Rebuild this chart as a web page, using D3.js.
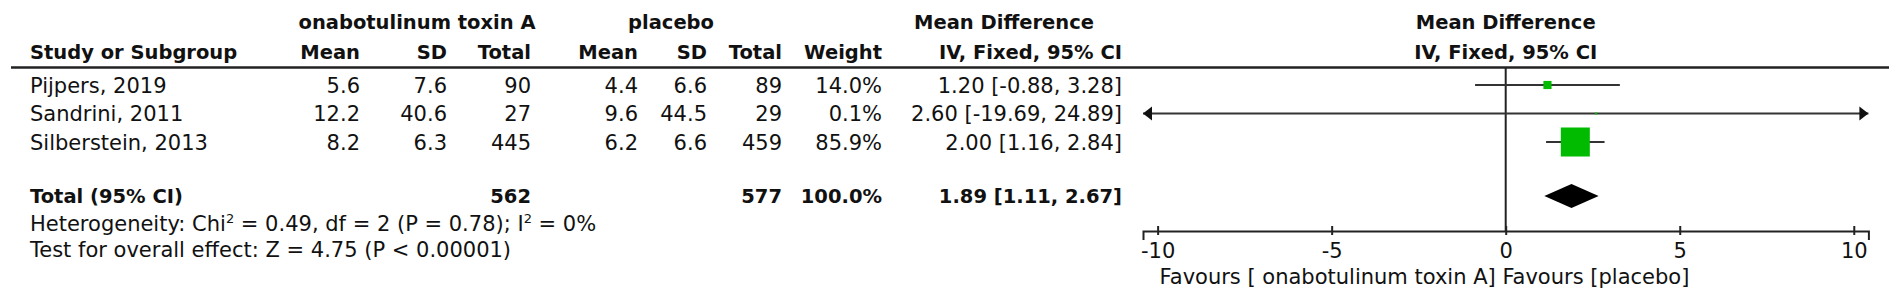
<!DOCTYPE html>
<html>
<head>
<meta charset="utf-8">
<script src="https://cdn.jsdelivr.net/npm/d3@7"></script>
<style>
  body { margin: 0; background: #fff; }
  svg text { font-family: "DejaVu Sans", sans-serif; font-size: 21px; fill: #111; }
  svg text.b { font-weight: bold; font-size: 19.5px; }
</style>
</head>
<body>
<div id="chart"></div>
<script>
// study data
const studies = ['Pijpers, 2019', 'Sandrini, 2011', 'Silberstein, 2013'];
const toxMean = ['5.6', '12.2', '8.2'];
const toxSD = ['7.6', '40.6', '6.3'];
const toxN = [90, 27, 445];
const plaMean = ['4.4', '9.6', '6.2'];
const plaSD = ['6.6', '44.5', '6.6'];
const plaN = [89, 29, 459];
const weights = [14.0, 0.1, 85.9];
const md = [1.20, 2.60, 2.00];
const ciLow = [-0.88, -19.69, 1.16];
const ciHigh = [3.28, 24.89, 2.84];

// pooled
const totalN = [562, 577];
const totalMD = [1.89, 1.11, 2.67];
const axisTicks = [-10, -5, 0, 5, 10];

const width = 1902, height = 306;
const svg = d3.select('#chart').append('svg')
    .attr('width', width)
    .attr('height', height);

// table column right edges
const colRight = { tMean: 360, tSD: 447, tN: 531, pMean: 638, pSD: 707, pN: 782, w: 882, ci: 1122 };
const rowY = d3.scalePoint().domain(studies).range([85, 142]);
const totalY = 196;

const fmtCI = (m, lo, hi) => `${m.toFixed(2)} [${lo.toFixed(2)}, ${hi.toFixed(2)}]`;

function txt(x, y, s, anchor, bold) {
    return svg.append('text')
        .attr('x', x).attr('y', y)
        .attr('text-anchor', anchor || 'start')
        .attr('class', bold ? 'b' : null)
        .text(s);
}

// headers
txt(417, 29, 'onabotulinum toxin A', 'middle', true);
txt(671, 29, 'placebo', 'middle', true);
txt(1004, 29, 'Mean Difference', 'middle', true);
txt(30, 59, 'Study or Subgroup', 'start', true);
[['tMean', 'Mean'], ['tSD', 'SD'], ['tN', 'Total'], ['pMean', 'Mean'], ['pSD', 'SD'], ['pN', 'Total'], ['w', 'Weight'], ['ci', 'IV, Fixed, 95% CI']]
    .forEach(([k, s]) => txt(colRight[k], 59, s, 'end', true));

svg.append('line')
    .attr('x1', 11).attr('x2', 1889).attr('y1', 67.5).attr('y2', 67.5)
    .attr('stroke', '#222').attr('stroke-width', 2.5);

// study rows
studies.forEach((s, i) => {
    const y = rowY(s) + 7.5;
    txt(30, y, s);
    txt(colRight.tMean, y, toxMean[i], 'end');
    txt(colRight.tSD, y, toxSD[i], 'end');
    txt(colRight.tN, y, toxN[i], 'end');
    txt(colRight.pMean, y, plaMean[i], 'end');
    txt(colRight.pSD, y, plaSD[i], 'end');
    txt(colRight.pN, y, plaN[i], 'end');
    txt(colRight.w, y, weights[i].toFixed(1) + '%', 'end');
    txt(colRight.ci, y, fmtCI(md[i], ciLow[i], ciHigh[i]), 'end');
});

// total row
txt(30, totalY + 7, 'Total (95% CI)', 'start', true);
txt(colRight.tN, totalY + 7, totalN[0], 'end', true);
txt(colRight.pN, totalY + 7, totalN[1], 'end', true);
txt(colRight.w, totalY + 7, '100.0%', 'end', true);
txt(colRight.ci, totalY + 7, fmtCI(totalMD[0], totalMD[1], totalMD[2]), 'end', true);

const het = svg.append('text').attr('x', 30).attr('y', 231);
het.append('tspan').text('Heterogeneity: Chi');
het.append('tspan').attr('dy', -8).style('font-size', '13px').text('2');
het.append('tspan').attr('dy', 8).text(' = 0.49, df = 2 (P = 0.78); I');
het.append('tspan').attr('dy', -8).style('font-size', '13px').text('2');
het.append('tspan').attr('dy', 8).text(' = 0%');
txt(30, 257, 'Test for overall effect: Z = 4.75 (P < 0.00001)');

// forest plot
const x = d3.scaleLinear().domain([-10.42, 10.42]).range([1143, 1868.4]);
const axisY = 231;
const size = d3.scalePow().exponent(0.7).domain([0, d3.max(weights)]).range([0, 29]);

txt(x(0), 29, 'Mean Difference', 'middle', true);
txt(x(0), 59, 'IV, Fixed, 95% CI', 'middle', true);

svg.append('line')
    .attr('x1', x(0)).attr('x2', x(0)).attr('y1', 68).attr('y2', axisY)
    .attr('stroke', '#222').attr('stroke-width', 2);

const [xmin, xmax] = x.domain();
const rows = svg.append('g').selectAll('g')
    .data(studies.map((s, i) => ({ s, i })))
    .enter().append('g');

rows.append('line')
    .attr('x1', d => x(Math.max(ciLow[d.i], xmin)))
    .attr('x2', d => x(Math.min(ciHigh[d.i], xmax)))
    .attr('y1', d => rowY(d.s)).attr('y2', d => rowY(d.s))
    .attr('stroke', '#333').attr('stroke-width', 2);

rows.append('rect')
    .attr('x', d => x(md[d.i]) - Math.max(2, size(weights[d.i])) / 2)
    .attr('y', d => rowY(d.s) - Math.max(2, size(weights[d.i])) / 2)
    .attr('width', d => Math.max(2, size(weights[d.i])))
    .attr('height', d => Math.max(2, size(weights[d.i])))
    .attr('fill', '#00bb00');

// arrowheads where CI runs off the scale
rows.filter(d => ciLow[d.i] < xmin).append('path')
    .attr('d', d => `M${x(xmin)},${rowY(d.s)} l9,-7 l0,14 z`)
    .attr('fill', '#111');
rows.filter(d => ciHigh[d.i] > xmax).append('path')
    .attr('d', d => `M${x(xmax)},${rowY(d.s)} l-9,-7 l0,14 z`)
    .attr('fill', '#111');

// pooled diamond
svg.append('path')
    .attr('d', `M${x(totalMD[1])},${totalY} L${x(totalMD[0])},${totalY - 12} L${x(totalMD[2])},${totalY} L${x(totalMD[0])},${totalY + 12} Z`)
    .attr('fill', '#000');

const ax = svg.append('g')
    .attr('transform', `translate(0,${axisY})`)
    .call(d3.axisBottom(x).tickValues(axisTicks).tickSizeOuter(0).tickSize(9).tickPadding(4).tickFormat(d => String(d)));
ax.select('.domain').attr('stroke', '#222').attr('stroke-width', 2);
ax.selectAll('.tick line').attr('y1', -5).attr('y2', 4).attr('stroke', '#222').attr('stroke-width', 2);
ax.selectAll('.tick text').attr('font-family', null).attr('font-size', null).attr('y', 12).attr('dy', '0.71em');

txt(x(-10) + 2, 284, 'Favours [ onabotulinum toxin A] Favours [placebo]', 'start');
</script>
</body>
</html>
